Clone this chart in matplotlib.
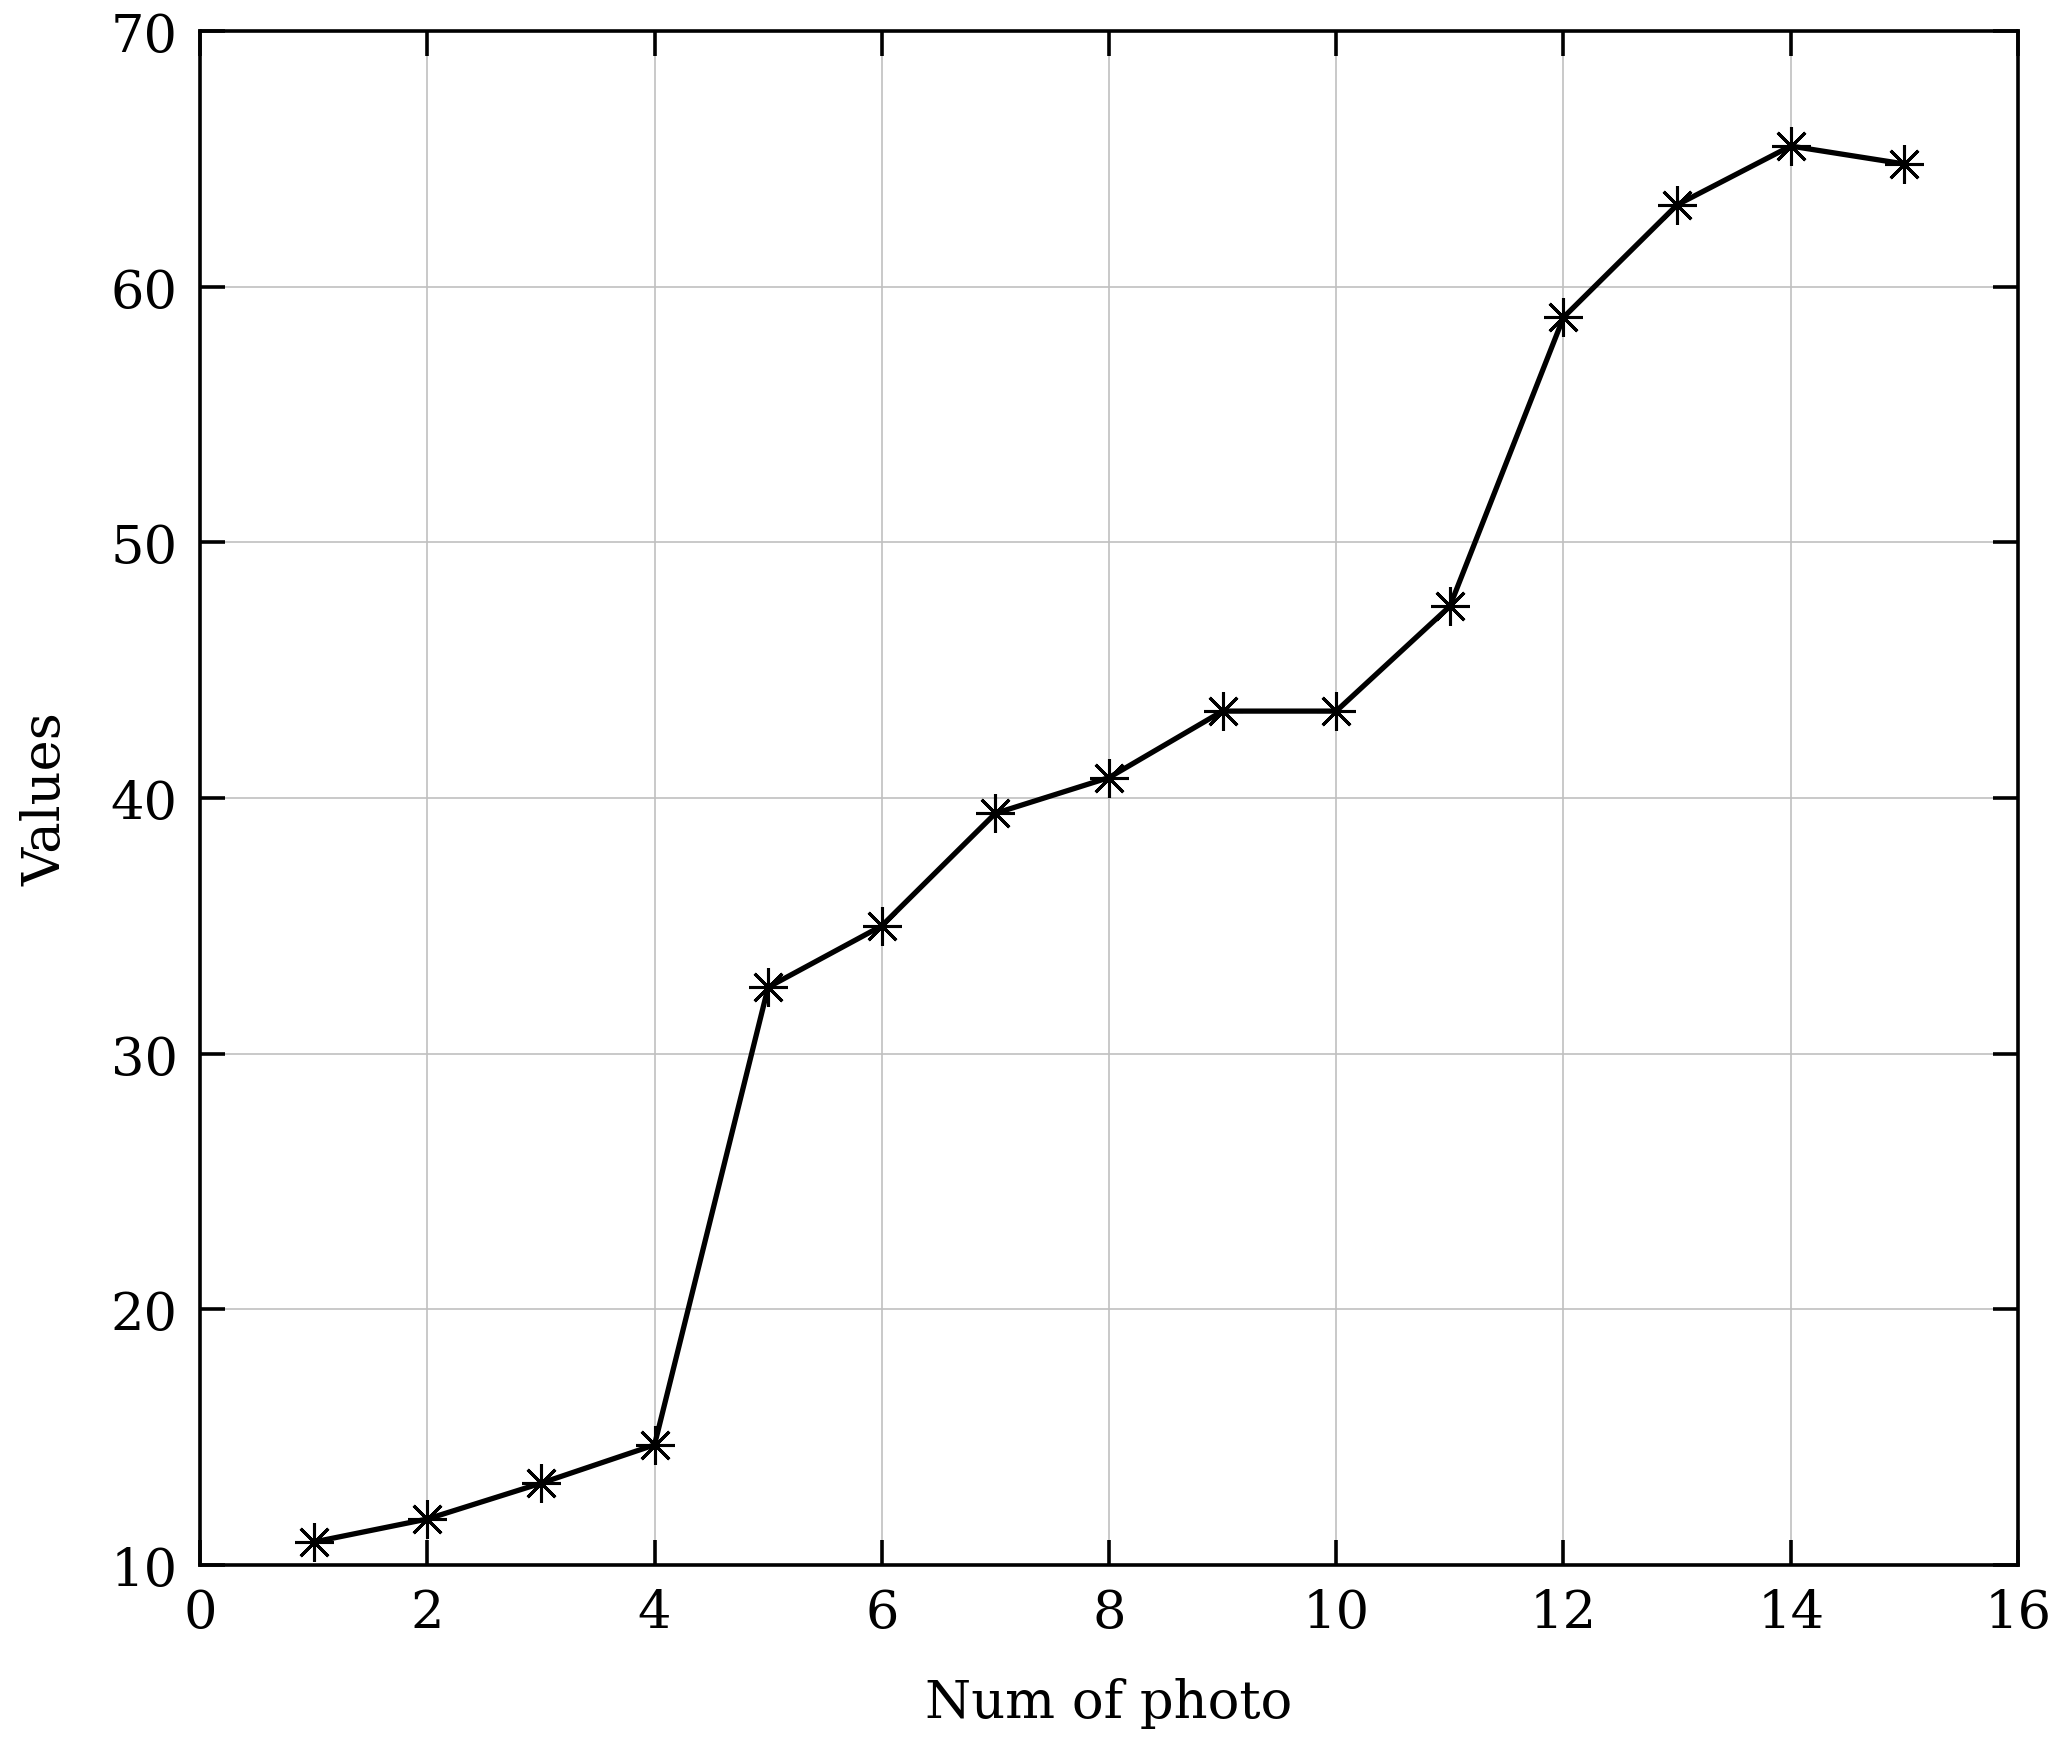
import matplotlib.pyplot as plt

photo_num = [1, 2, 3, 4, 5, 6, 7, 8, 9, 10, 11, 12, 13, 14, 15]
values = [10.9, 11.8, 13.2, 14.7, 32.6, 35.0, 39.4, 40.8, 43.4, 43.4, 47.5, 58.8, 63.2, 65.5, 64.8]
x_ticks = [0, 2, 4, 6, 8, 10, 12, 14, 16]
y_ticks = [10, 20, 30, 40, 50, 60, 70]

plt.rcParams['font.family'] = ['DejaVu Serif']
plt.rcParams['font.size'] = 19

fig = plt.figure(figsize=(10.3, 8.745), dpi=200)
ax = fig.add_axes([0.0971, 0.1046, 0.8825, 0.8771])

ax.plot(photo_num, values, color='black', linewidth=1.9,
        marker=(8, 2, 0), markersize=14, markeredgewidth=1.1, zorder=3)

ax.set_xlim(0, 16)
ax.set_ylim(10, 70)
ax.set_xticks(x_ticks)
ax.set_yticks(y_ticks)
ax.grid(True, color='#c0c0c0', linewidth=0.6)
ax.set_axisbelow(True)
ax.tick_params(direction='in', length=9, width=1.3, top=True, right=True, pad=8)
for s in ax.spines.values():
    s.set_linewidth(1.3)

ax.set_xlabel("Num of photo", labelpad=14)
ax.set_ylabel("Values", labelpad=14)

fig.savefig("out.png", dpi=200)
